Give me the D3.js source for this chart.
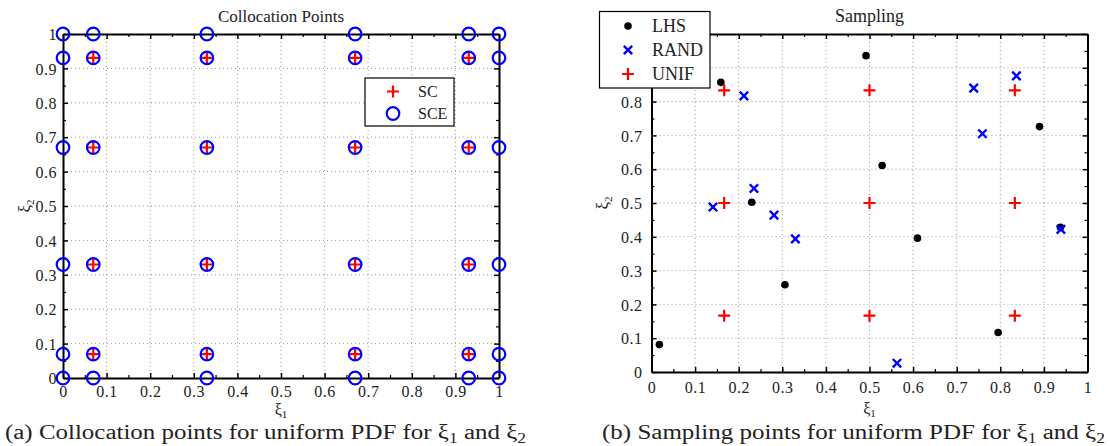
<!DOCTYPE html>
<html><head><meta charset="utf-8">
<script src="https://cdn.jsdelivr.net/npm/d3@7"></script>
<style>body{margin:0;background:#fff}svg{display:block}svg text{font-family:"Liberation Serif","Times New Roman",serif;fill:#222}</style>
</head><body><svg id="c" width="1110" height="446" font-family="Liberation Serif, serif"></svg>
<script>
// ---- data ----
const tickValues = [0,0.1,0.2,0.3,0.4,0.5,0.6,0.7,0.8,0.9,1];
const tickLabels = ["0","0.1","0.2","0.3","0.4","0.5","0.6","0.7","0.8","0.9","1"];
const minorTicks = [0.05,0.15,0.25,0.35,0.45,0.55,0.65,0.75,0.85,0.95];
// Collocation nodes
const scNodes = [0.0694,0.33,0.67,0.9306];
const sceNodes = [0,0.0694,0.33,0.67,0.9306,1];
// Sampling
const lhsX = [0.018,0.159,0.230,0.306,0.492,0.529,0.610,0.795,0.890,0.938];
const lhsY = [0.081,0.857,0.502,0.258,0.936,0.611,0.396,0.117,0.726,0.428];
const randX = [0.212,0.235,0.141,0.281,0.330,0.739,0.837,0.759,0.563,0.939];
const randY = [0.817,0.543,0.488,0.464,0.394,0.840,0.876,0.705,0.026,0.422];
const unifNodes = [1/6,0.5,5/6];

const svg = d3.select("#c");
const FF = "Liberation Serif, Times New Roman, serif";

function panel(o){
  const x = d3.scaleLinear().domain([0,1]).range([o.x0,o.x1]);
  const y = d3.scaleLinear().domain([0,1]).range([o.y0,o.y1]);
  const g = svg.append("g");
  // grid
  const gv = tickValues.slice(1,-1);
  g.selectAll(".gx").data(gv).join("line").attr("x1",d=>x(d)).attr("x2",d=>x(d))
    .attr("y1",o.y1).attr("y2",o.y0).attr("stroke","#999").attr("stroke-width",1).attr("stroke-dasharray","1,3");
  g.selectAll(".gy").data(gv).join("line").attr("y1",d=>y(d)).attr("y2",d=>y(d))
    .attr("x1",o.x0).attr("x2",o.x1).attr("stroke","#999").attr("stroke-width",1).attr("stroke-dasharray","1,3");
  const fmt = d => tickLabels[tickValues.indexOf(d)];
  const mk = (axisFn, scale, tr, labels) => {
    const a = axisFn(scale).tickValues(tickValues).tickSizeInner(-5).tickSizeOuter(0).tickPadding(7)
      .tickFormat(labels ? fmt : "");
    const ga = g.append("g").attr("transform",tr).call(a)
      .attr("font-family",FF).attr("font-size",16);
    ga.select(".domain").attr("stroke","#000").attr("stroke-width",2);
    ga.selectAll(".tick line").attr("stroke","#000").attr("stroke-width",1.5);
    ga.selectAll(".tick text").attr("fill","#222")
      .style("font-family",FF).style("font-size","16px").style("letter-spacing","0.5px");
    const m = axisFn(scale).tickValues(minorTicks).tickSizeInner(-3).tickSizeOuter(0).tickFormat("");
    const gm = g.append("g").attr("transform",tr).call(m);
    gm.select(".domain").remove();
    gm.selectAll(".tick line").attr("stroke","#000").attr("stroke-width",1.2);
    return ga;
  };
  const gb = mk(d3.axisBottom, x, `translate(0,${o.y0})`, true);
  mk(d3.axisTop, x, `translate(0,${o.y1})`, false);
  const gl = mk(d3.axisLeft, y, `translate(${o.x0},0)`, true);
  mk(d3.axisRight, y, `translate(${o.x1},0)`, false);
  gb.selectAll(".tick text").attr("y",o.xlabOff).attr("dy","0.35em");
  gl.selectAll(".tick text").attr("x",-o.ylabOff).attr("dy","0.35em");
  // title
  g.append("text").attr("x",(o.x0+o.x1)/2).attr("y",22).attr("text-anchor","middle")
    .style("font-size",o.titleSize+"px").text(o.title);
  // axis labels
  const xl = g.append("text").attr("x",(o.x0+o.x1)/2).attr("y",o.y0+o.xtitleOff).attr("text-anchor","middle").style("font-size","16px");
  xl.append("tspan").text("ξ");
  xl.append("tspan").attr("dy",3).style("font-size","11px").text("1");
  const yl = g.append("text").attr("transform",`translate(${o.x0-o.ytitleOff},${(o.y0+o.y1)/2}) rotate(-90)`).attr("text-anchor","middle").style("font-size","17px");
  yl.append("tspan").text("ξ");
  yl.append("tspan").attr("dy",4).style("font-size","11px").text("2");
  // caption
  const cap = svg.append("text").attr("x",o.capX).attr("y",439).style("font-size","20px").attr("fill","#111")
    .attr("textLength",o.capW).attr("lengthAdjust","spacingAndGlyphs");
  cap.append("tspan").text(o.caption + " ξ");
  cap.append("tspan").attr("dy",4).style("font-size","14px").text("1");
  cap.append("tspan").attr("dy",-4).text(" and ξ");
  cap.append("tspan").attr("dy",4).style("font-size","14px").text("2");
  return {x,y,g};
}

function plus(sel, cx, cy, s, color, w){
  sel.append("path").attr("d",`M${cx-s},${cy}H${cx+s}M${cx},${cy-s}V${cy+s}`).attr("stroke",color).attr("stroke-width",w).attr("fill","none");
}
function cross(sel, cx, cy, s, color, w){
  sel.append("path").attr("d",`M${cx-s},${cy-s}L${cx+s},${cy+s}M${cx-s},${cy+s}L${cx+s},${cy-s}`).attr("stroke",color).attr("stroke-width",w).attr("fill","none");
}

// ---- Left panel ----
const L = panel({x0:63,x1:499,y0:378,y1:34,title:"Collocation Points",titleSize:17,
  xlabOff:13,ylabOff:6,xtitleOff:37,ytitleOff:33,
  caption:"(a)  Collocation points for uniform PDF for", capX:5, capW:521});
const sce = sceNodes.flatMap(a=>sceNodes.map(b=>[a,b]));
const sc = scNodes.flatMap(a=>scNodes.map(b=>[a,b]));
const lm = svg.append("g");
sc.forEach(d=>plus(lm, L.x(d[0]), L.y(d[1]), 6, "#f00", 2.2));
lm.selectAll("circle").data(sce).join("circle").attr("cx",d=>L.x(d[0])).attr("cy",d=>L.y(d[1]))
  .attr("r",6.3).attr("fill","none").attr("stroke","#00f").attr("stroke-width",2.2);
// legend left
const lg = svg.append("g");
lg.append("rect").attr("x",365).attr("y",78).attr("width",89).attr("height",48).attr("fill","#fff").attr("stroke","#000").attr("stroke-width",1.2);
plus(lg,393,91.5,6,"#f00",2.2);
lg.append("circle").attr("cx",393).attr("cy",113.5).attr("r",6.3).attr("fill","none").attr("stroke","#00f").attr("stroke-width",2.2);
lg.append("text").attr("x",418).attr("y",97).style("font-size","16px").text("SC");
lg.append("text").attr("x",418).attr("y",119).style("font-size","16px").text("SCE");

// ---- Right panel ----
const R = panel({x0:651.5,x1:1087.5,y0:372,y1:34,title:"Sampling",titleSize:18,
  xlabOff:15.5,ylabOff:9,xtitleOff:42,ytitleOff:44,
  caption:"(b)  Sampling points for uniform PDF for", capX:602, capW:503});
const rm = svg.append("g");
const unif = unifNodes.flatMap(a=>unifNodes.map(b=>[a,b]));
rm.selectAll("circle").data(lhsX.map((v,i)=>[v,lhsY[i]])).join("circle")
  .attr("cx",d=>R.x(d[0])).attr("cy",d=>R.y(d[1])).attr("r",3.8).attr("fill","#000");
unif.forEach(d=>plus(rm, R.x(d[0]), R.y(d[1]), 6, "#f00", 2.2));
randX.forEach((v,i)=>cross(rm, R.x(v), R.y(randY[i]), 4.2, "#00f", 2.4));
// legend right
const rg = svg.append("g");
rg.append("rect").attr("x",599.5).attr("y",11.5).attr("width",110.5).attr("height",76.5).attr("fill","#fff").attr("stroke","#000").attr("stroke-width",1.2);
rg.append("circle").attr("cx",628).attr("cy",26).attr("r",3.8).attr("fill","#000");
cross(rg,628,50,4.2,"#00f",2.4);
plus(rg,628,74,6,"#f00",2.2);
[["LHS",26],["RAND",50],["UNIF",74]].forEach(([t,yy])=>rg.append("text").attr("x",652).attr("y",yy+6).style("font-size","18px").text(t));
</script></body></html>
